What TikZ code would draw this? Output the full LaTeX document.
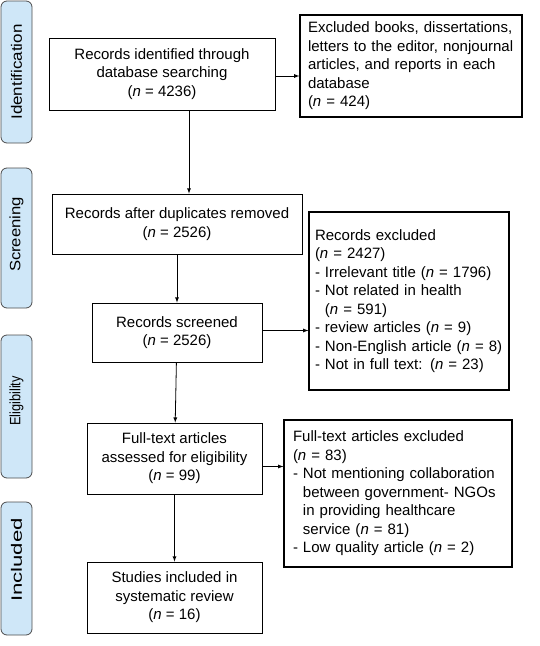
\documentclass[tikz,border=0pt]{standalone}
\usepackage{fontspec}
\usepackage{graphicx}
\setmainfont{Liberation Sans}

\definecolor{stageblue}{RGB}{207,231,248}

\tikzset{
	box/.style={draw, line width=0.8pt, align=center, font=\fontsize{15}{18.5}\selectfont},
	excl/.style={draw, line width=1.2pt, align=left, font=\fontsize{15}{18.5}\selectfont},
	stage/.style={draw=black!70, fill=stageblue, rounded corners=6pt, line width=0.8pt, rotate=90, minimum height=31pt, font=\fontsize{15}{18}\selectfont},
	arr/.style={-latex, line width=0.8pt}
}

\begin{document}
\begin{tikzpicture}[x=1pt,y=-1pt]
	\useasboundingbox (0,0) rectangle (540,646);

	% stages
	\node[stage, minimum width=142pt] (ident) at (16.5,72) {\scalebox{1.13}[1]{Identification}};
	\node[stage, minimum width=140pt] (screen) at (16.5,238) {\hspace{7pt}\scalebox{1.11}[1]{Screening}};
	\node[stage, minimum width=143pt] (elig) at (16.5,406.5) {\hspace{11pt}\scalebox{0.85}[1]{Eligibility}};
	\node[stage, minimum width=133pt] (incl) at (16.5,568.5) {\hspace{17pt}\scalebox{1.48}[1]{Included}};

	% main column
	\node[box, minimum width=226pt, minimum height=72pt] (recid) at (162,74) {Records identified through\\database searching\\(\textit{n} = 4236)};
	\node[box, minimum width=250pt, minimum height=60pt] (recdup) at (177,224) {Records after duplicates removed\\(\textit{n} = 2526)};
	\node[box, minimum width=170pt, minimum height=59pt] (recscr) at (177,332.5) {Records screened\\(\textit{n} = 2526)};
	\node[box, minimum width=175pt, minimum height=71pt] (fulltext) at (174.5,458.5) {Full-text articles\\assessed for eligibility\\(\textit{n} = 99)};
	\node[box, minimum width=175pt, minimum height=71pt] (studies) at (174.5,597.5) {Studies included in\\systematic review\\(\textit{n} = 16)};

	% excluded
	\node[excl, inner xsep=8pt, text width=206pt, minimum height=102pt] (exbooks) at (411,66) {Excluded books, dissertations,\\letters to the editor, nonjournal\\articles, and reports in each\\database\\(\textit{n} = 424)};
	\node[excl, inner xsep=6pt, text width=188pt, minimum height=178pt] (exrec) at (409,301) {Records excluded\\(\textit{n} = 2427)\\- Irrelevant title (\textit{n} = 1796)\\- Not related in health\\\hphantom{- }(\textit{n} = 591)\\- review articles (\textit{n} = 9)\\- Non-English article (\textit{n} = 8)\\- Not in full text: (\textit{n} = 23)};
	\node[excl, inner xsep=9pt, text width=210pt, minimum height=147pt] (exfull) at (398,493.5) {Full-text articles excluded\\(\textit{n} = 83)\\- Not mentioning collaboration\\\hphantom{- }between government- NGOs\\\hphantom{- }in providing healthcare\\\hphantom{- }service (\textit{n} = 81)\\- Low quality article (\textit{n} = 2)};

	% arrows
	\draw[arr] ([yshift=-2pt]recid.east) -- ([yshift=-2pt]recid.east -| exbooks.west);
	\draw[arr] ([xshift=27pt]recid.south) -- ([xshift=27pt]recid.south |- recdup.north);
	\draw[arr] (recdup) -- (recscr);
	\draw[arr] ([yshift=2pt]recscr.east) -- ([yshift=2pt]recscr.east -| exrec.west);
	\draw[arr] (recscr) -- (fulltext);
	\draw[arr] ([yshift=-8pt]fulltext.east) -- ([yshift=-8pt]fulltext.east -| exfull.west);
	\draw[arr] (fulltext) -- (studies);
\end{tikzpicture}
\end{document}
